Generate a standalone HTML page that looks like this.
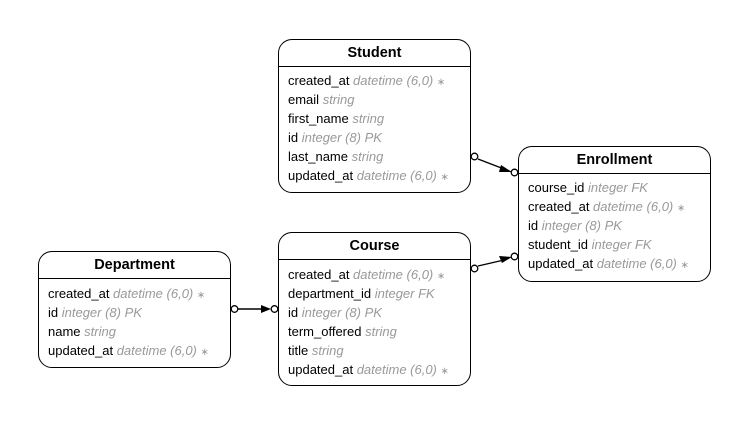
<!DOCTYPE html>
<html><head><style>
body{margin:0;width:749px;height:425px;background:#fff;position:relative;font-family:"Liberation Sans",sans-serif;overflow:hidden}
.b{position:absolute;border:1.5px solid #000;border-radius:14px;box-sizing:border-box;background:#fff}
.t{position:absolute;left:0;right:0;top:0;text-align:center;font-weight:bold;font-size:14.5px;border-bottom:1.5px solid #000;box-sizing:border-box}
.r{position:absolute;left:9px;font-size:13px;white-space:nowrap;color:#000}
.r i{color:#999}
.r s{text-decoration:none;color:#999;font-size:10px}
</style></head><body>
<svg width="749" height="425" style="position:absolute;left:0;top:0">
<g stroke="#000" stroke-width="1.4" fill="none">
<line x1="478" y1="159" x2="504" y2="169"/>
<line x1="478" y1="266" x2="504" y2="260"/>
<line x1="238" y1="309" x2="262" y2="309"/>
</g>
<polygon points="512,172 501,165 499,172" fill="#000"/>
<polygon points="512,257 499,256 502,263" fill="#000"/>
<polygon points="271,309 261,305 261,313" fill="#000"/>
<g stroke="#000" stroke-width="1.3" fill="#fff">
<circle cx="474.5" cy="156.5" r="3.3"/><circle cx="514.5" cy="172.5" r="3.3"/>
<circle cx="474.5" cy="268.5" r="3.3"/><circle cx="514.5" cy="256.5" r="3.3"/>
<circle cx="234.5" cy="309" r="3.3"/><circle cx="274.5" cy="309" r="3.3"/>
</g>
</svg>

<div class="b" style="left:278px;top:39px;width:193px;height:154px">
<div class="t" style="height:27px;line-height:26px">Student</div>
<div class="r" style="top:33px">created_at <i>datetime (6,0)</i> <s>∗</s></div>
<div class="r" style="top:52px">email <i>string</i></div>
<div class="r" style="top:71px">first_name <i>string</i></div>
<div class="r" style="top:90px">id <i>integer (8) PK</i></div>
<div class="r" style="top:109px">last_name <i>string</i></div>
<div class="r" style="top:128px">updated_at <i>datetime (6,0)</i> <s>∗</s></div>
</div>

<div class="b" style="left:518px;top:146px;width:193px;height:136px">
<div class="t" style="height:27px;line-height:26px">Enrollment</div>
<div class="r" style="top:33px">course_id <i>integer FK</i></div>
<div class="r" style="top:52px">created_at <i>datetime (6,0)</i> <s>∗</s></div>
<div class="r" style="top:71px">id <i>integer (8) PK</i></div>
<div class="r" style="top:90px">student_id <i>integer FK</i></div>
<div class="r" style="top:109px">updated_at <i>datetime (6,0)</i> <s>∗</s></div>
</div>

<div class="b" style="left:278px;top:232px;width:193px;height:154px">
<div class="t" style="height:27px;line-height:26px">Course</div>
<div class="r" style="top:34px">created_at <i>datetime (6,0)</i> <s>∗</s></div>
<div class="r" style="top:53px">department_id <i>integer FK</i></div>
<div class="r" style="top:72px">id <i>integer (8) PK</i></div>
<div class="r" style="top:91px">term_offered <i>string</i></div>
<div class="r" style="top:110px">title <i>string</i></div>
<div class="r" style="top:129px">updated_at <i>datetime (6,0)</i> <s>∗</s></div>
</div>

<div class="b" style="left:38px;top:251px;width:193px;height:117px">
<div class="t" style="height:27px;line-height:26px">Department</div>
<div class="r" style="top:34px">created_at <i>datetime (6,0)</i> <s>∗</s></div>
<div class="r" style="top:53px">id <i>integer (8) PK</i></div>
<div class="r" style="top:72px">name <i>string</i></div>
<div class="r" style="top:91px">updated_at <i>datetime (6,0)</i> <s>∗</s></div>
</div>
</body></html>
